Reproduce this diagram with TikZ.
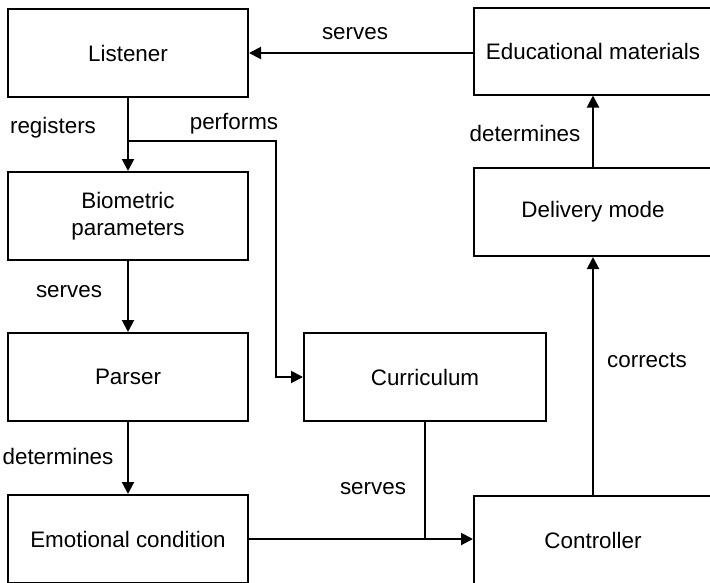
\documentclass[tikz,border=0pt]{standalone}
\usepackage{fontspec}
\setmainfont{Liberation Sans}
\usetikzlibrary{arrows.meta}
\begin{document}
\begin{tikzpicture}[x=1pt,y=-1pt,
  box/.style={draw,line width=2pt,rectangle,minimum width=240pt,minimum height=88pt,inner sep=0pt,align=center,font=\fontsize{22.4}{27}\selectfont},
  lab/.style={font=\fontsize{22.4}{27}\selectfont,inner sep=0pt},
  conn/.style={line width=2pt},
  arr/.style={conn,-{Triangle[length=12pt,width=12pt]}}]
\useasboundingbox (0,0) rectangle (710,582);
\node[box] (listener) at (128,53) {Listener};
\node[box] (bio) at (128,216) {Biometric\\parameters};
\node[box] (parser) at (128,377) {Parser};
\node[box] (emo) at (128,539) {Emotional condition};
\node[box,minimum width=242pt] (curr) at (425,377) {Curriculum};
\node[box,minimum width=238pt] (ctrl) at (593,540) {Controller};
\node[box,minimum width=238pt,minimum height=87pt] (edu) at (593,51) {Educational materials};
\node[box,minimum width=238pt] (deliv) at (593,212) {Delivery mode};
\coordinate (j1) at (128,141);
\coordinate (k1) at (276,141);
\draw[arr] (listener.east -| edu.west) -- (listener.east);
\draw[arr] (listener.south) -- (bio.north);
\draw[conn,-{Triangle[length=12pt,width=12pt]}] (j1) -- (k1) |- (curr.west);
\draw[arr] (bio.south) -- (parser.north);
\draw[arr] (parser.south) -- (emo.north);
\draw[arr] (emo.east) -- (emo.east -| ctrl.west);
\draw[conn] (curr.south) -- (curr.south |- emo.east);
\draw[arr] (ctrl.north) -- (deliv.south);
\draw[arr] (deliv.north) -- (edu.south);
\node[lab] (l1) at (355,34) {serves};
\node[lab] (l2) at (53,128) {registers};
\node[lab] (l3) at (234,124) {performs};
\node[lab] (l4) at (69,292) {serves};
\node[lab] (l5) at (58,456) {determines};
\node[lab] (l6) at (373,489) {serves};
\node[lab] (l7) at (647,360) {corrects};
\node[lab] (l8) at (525,133) {determines};
\end{tikzpicture}
\end{document}
